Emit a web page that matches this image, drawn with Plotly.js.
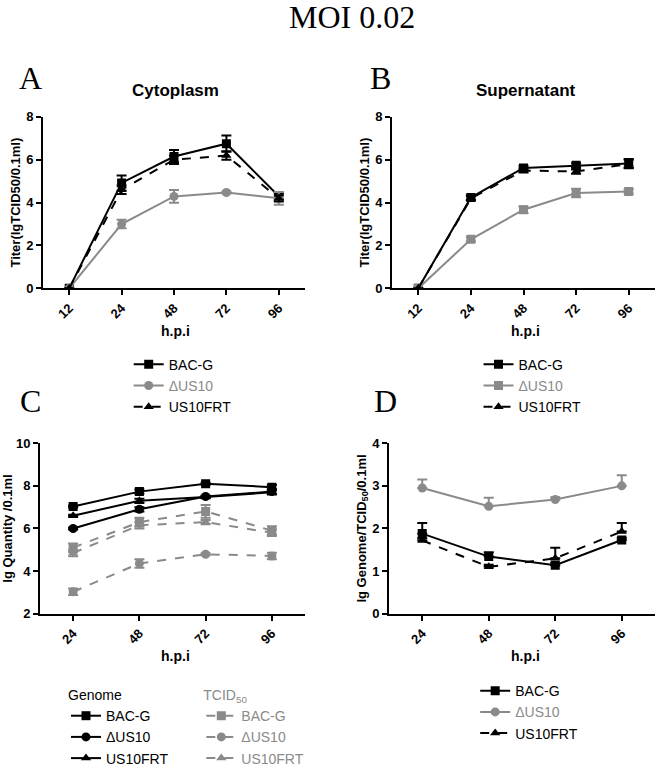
<!DOCTYPE html>
<html>
<head>
<meta charset="utf-8">
<script src="https://cdn.plot.ly/plotly-3.0.1.min.js"></script>
<style>
  body { margin: 0; background: #fff; }
  #chart { width: 660px; height: 774px; }
</style>
</head>
<body>
<div id="chart"></div>
<script>
// Dados - paineis A e B (titulo viral)
var hpiAB = ['12', '24', '48', '72', '96'];
var cytoBAC = [0, 4.92, 6.15, 6.75, 4.3];
var cytoBACerr = [0, 0.35, 0.3, 0.38, 0.15];
var cytoDel = [0, 3.0, 4.29, 4.47, 4.2];
var cytoDelErr = [0, 0.2, 0.3, 0.05, 0.3];
var cytoFRT = [0, 4.6, 6.0, 6.2, 4.2];
var cytoFRTerr = [0, 0.2, 0.2, 0.2, 0.15];

var supBAC = [0, 4.24, 5.62, 5.74, 5.83];
var supBACerr = [0, 0.1, 0.1, 0.1, 0.2];
var supDel = [0, 2.29, 3.67, 4.45, 4.52];
var supDelErr = [0, 0.1, 0.15, 0.2, 0.1];
var supFRT = [0, 4.2, 5.5, 5.45, 5.8];
var supFRTerr = [0, 0.1, 0.1, 0.1, 0.2];

// Dados - painel C (genoma e TCID50)
var hpiCD = ['24', '48', '72', '96'];
var genBAC = [7.03, 7.73, 8.1, 7.94];
var genDel = [6.0, 6.9, 7.5, 7.73];
var genFRT = [6.6, 7.3, 7.48, 7.7];
var genErr = [0.05, 0.1, 0.05, 0.1];
var tciBAC = [5.1, 6.3, 6.8, 5.9];
var tciBACerr = [0.2, 0.2, 0.3, 0.2];
var tciDel = [3.03, 4.36, 4.79, 4.71];
var tciDelErr = [0.15, 0.2, 0.05, 0.15];
var tciFRT = [4.85, 6.15, 6.3, 5.8];
var tciFRTerr = [0.15, 0.15, 0.1, 0.15];

// Dados - painel D (razao genoma/TCID50)
var ratBAC = [1.88, 1.34, 1.14, 1.73];
var ratBACerr = [0.25, 0.1, 0.05, 0.05];
var ratDel = [2.95, 2.52, 2.68, 3.0];
var ratDelErr = [0.2, 0.2, 0.05, 0.25];
var ratFRT = [1.72, 1.1, 1.3, 1.93];
var ratFRTerr = [0.05, 0.05, 0.25, 0.2];

var BLACK = '#000000';
var GRAY = '#8a8a8a';
var SANS = 'Liberation Sans, Arial, sans-serif';
var SERIF = 'Liberation Serif, Times New Roman, serif';

function serie(x, y, err, opts) {
    var down = opts.upOnly ? y.map(function() { return 0; }) : err;
    return {
        x: x, y: y,
        type: 'scatter',
        mode: 'lines+markers',
        name: opts.name,
        xaxis: opts.xa, yaxis: opts.ya,
        legend: opts.legend,
        line: { color: opts.color, width: 2, dash: opts.dash || 'solid' },
        marker: { color: opts.color, symbol: opts.symbol, size: 9 },
        error_y: { type: 'data', array: err, arrayminus: down, color: opts.color, thickness: 2, width: 5 }
    };
}

var grayName = function(t) { return '<span style="color:' + GRAY + '">' + t + '</span>'; };

var data = [
    // A
    serie(hpiAB, cytoBAC, cytoBACerr, { name: 'BAC-G', xa: 'x', ya: 'y', legend: 'legend', color: BLACK, symbol: 'square' }),
    serie(hpiAB, cytoDel, cytoDelErr, { name: grayName('ΔUS10'), xa: 'x', ya: 'y', legend: 'legend', color: GRAY, symbol: 'circle' }),
    serie(hpiAB, cytoFRT, cytoFRTerr, { name: 'US10FRT', xa: 'x', ya: 'y', legend: 'legend', color: BLACK, symbol: 'triangle-up', dash: 'dash' }),
    // B
    serie(hpiAB, supBAC, supBACerr, { name: 'BAC-G', xa: 'x2', ya: 'y2', legend: 'legend2', color: BLACK, symbol: 'square' }),
    serie(hpiAB, supDel, supDelErr, { name: grayName('ΔUS10'), xa: 'x2', ya: 'y2', legend: 'legend2', color: GRAY, symbol: 'square' }),
    serie(hpiAB, supFRT, supFRTerr, { name: 'US10FRT', xa: 'x2', ya: 'y2', legend: 'legend2', color: BLACK, symbol: 'triangle-up', dash: 'dash' }),
    // C - genoma
    serie(hpiCD, genBAC, genErr, { name: 'BAC-G', xa: 'x3', ya: 'y3', legend: 'legend3', color: BLACK, symbol: 'square' }),
    serie(hpiCD, genDel, genErr, { name: 'ΔUS10', xa: 'x3', ya: 'y3', legend: 'legend3', color: BLACK, symbol: 'circle' }),
    serie(hpiCD, genFRT, genErr, { name: 'US10FRT', xa: 'x3', ya: 'y3', legend: 'legend3', color: BLACK, symbol: 'triangle-up' }),
    // C - TCID50
    serie(hpiCD, tciBAC, tciBACerr, { name: grayName('BAC-G'), xa: 'x3', ya: 'y3', legend: 'legend4', color: GRAY, symbol: 'square', dash: 'dash' }),
    serie(hpiCD, tciDel, tciDelErr, { name: grayName('ΔUS10'), xa: 'x3', ya: 'y3', legend: 'legend4', color: GRAY, symbol: 'circle', dash: 'dash' }),
    serie(hpiCD, tciFRT, tciFRTerr, { name: grayName('US10FRT'), xa: 'x3', ya: 'y3', legend: 'legend4', color: GRAY, symbol: 'triangle-up', dash: 'dash' }),
    // D
    serie(hpiCD, ratBAC, ratBACerr, { name: 'BAC-G', xa: 'x4', ya: 'y4', legend: 'legend5', color: BLACK, symbol: 'square', upOnly: true }),
    serie(hpiCD, ratDel, ratDelErr, { name: grayName('ΔUS10'), xa: 'x4', ya: 'y4', legend: 'legend5', color: GRAY, symbol: 'circle', upOnly: true }),
    serie(hpiCD, ratFRT, ratFRTerr, { name: 'US10FRT', xa: 'x4', ya: 'y4', legend: 'legend5', color: BLACK, symbol: 'triangle-up', dash: 'dash', upOnly: true })
];

var tickFont = { family: SANS, size: 13, color: BLACK, weight: 'bold' };
var titleFont = { family: SANS, size: 13, color: BLACK, weight: 'bold' };

function eixoX(domain, n, anchor) {
    return {
        domain: domain, anchor: anchor, type: 'category',
        range: [-0.5, n - 0.5],
        showline: true, linecolor: BLACK, linewidth: 2,
        ticks: 'outside', ticklen: 5, tickwidth: 2, tickcolor: BLACK,
        tickangle: -45, tickfont: tickFont,
        showgrid: false, zeroline: false
    };
}

function eixoY(domain, range, dtick, anchor, title) {
    return {
        domain: domain, anchor: anchor,
        range: range, dtick: dtick,
        showline: true, linecolor: BLACK, linewidth: 2,
        ticks: 'outside', ticklen: 5, tickwidth: 2, tickcolor: BLACK,
        tickfont: tickFont,
        showgrid: false, zeroline: false,
        title: { text: title, font: titleFont, standoff: 3 }
    };
}

function legenda(x, y, title, titleColor) {
    var l = {
        x: x, y: y, xanchor: 'left', yanchor: 'top',
        bgcolor: 'rgba(0,0,0,0)',
        font: { family: SANS, size: 14, color: BLACK },
        itemwidth: 30, tracegroupgap: 0,
        traceorder: 'normal'
    };
    if (title) {
        l.title = { text: title, side: 'top', font: { family: SANS, size: 14, color: titleColor } };
    }
    return l;
}

function nota(text, px, py, font) {
    return { text: text, x: px / 660, y: 1 - py / 774, xref: 'paper', yref: 'paper',
             xanchor: 'center', yanchor: 'middle', showarrow: false, font: font };
}

var yAB = [1 - 296 / 774, 1 - 120 / 774];
var yCD = [1 - 630 / 774, 1 - 455 / 774];
var letraFont = { family: SERIF, size: 32, color: BLACK };
var painelFont = { family: SANS, size: 17, color: BLACK, weight: 'bold' };
var hpiFont = { family: SANS, size: 14, color: BLACK, weight: 'bold' };

var layout = {
    width: 660,
    height: 774,
    margin: { l: 0, r: 0, t: 0, b: 0 },
    paper_bgcolor: '#ffffff',
    plot_bgcolor: '#ffffff',
    xaxis: eixoX([43 / 660, 305 / 660], 5, 'y'),
    yaxis: eixoY(yAB, [0, 8], 2, 'x', 'Titer(lgTCID50/0.1ml)'),
    xaxis2: eixoX([392 / 660, 655 / 660], 5, 'y2'),
    yaxis2: eixoY(yAB, [0, 8], 2, 'x2', 'Titer(lgTCID50/0.1ml)'),
    xaxis3: eixoX([40 / 660, 305 / 660], 4, 'y3'),
    yaxis3: eixoY(yCD, [2, 10], 2, 'x3', 'lg Quantity /0.1ml'),
    xaxis4: eixoX([389 / 660, 655 / 660], 4, 'y4'),
    yaxis4: eixoY(yCD, [0, 4], 1, 'x4', 'lg Genome/TCID<sub>50</sub>/0.1ml'),
    legend: legenda(0.195, 1 - 358 / 774),
    legend2: legenda(0.725, 1 - 358 / 774),
    legend3: legenda(0.1, 1 - 700 / 774, 'Genome', BLACK),
    legend4: legenda(0.305, 1 - 700 / 774, 'TCID<sub>50</sub>', GRAY),
    legend5: legenda(0.72, 1 - 693 / 774),
    annotations: [
        nota('MOI 0.02', 352, 17, { family: SERIF, size: 32, color: BLACK }),
        nota('A', 30, 80, letraFont),
        nota('B', 380, 80, letraFont),
        nota('C', 30, 412, letraFont),
        nota('D', 385, 412, letraFont),
        nota('Cytoplasm', 175, 93, painelFont),
        nota('Supernatant', 526, 93, painelFont),
        nota('h.p.i', 175, 340, hpiFont),
        nota('h.p.i', 525, 340, hpiFont),
        nota('h.p.i', 175, 673, hpiFont),
        nota('h.p.i', 525, 673, hpiFont)
    ]
};

Plotly.newPlot('chart', data, layout, { displayModeBar: false, staticPlot: true });
</script>
</body>
</html>
